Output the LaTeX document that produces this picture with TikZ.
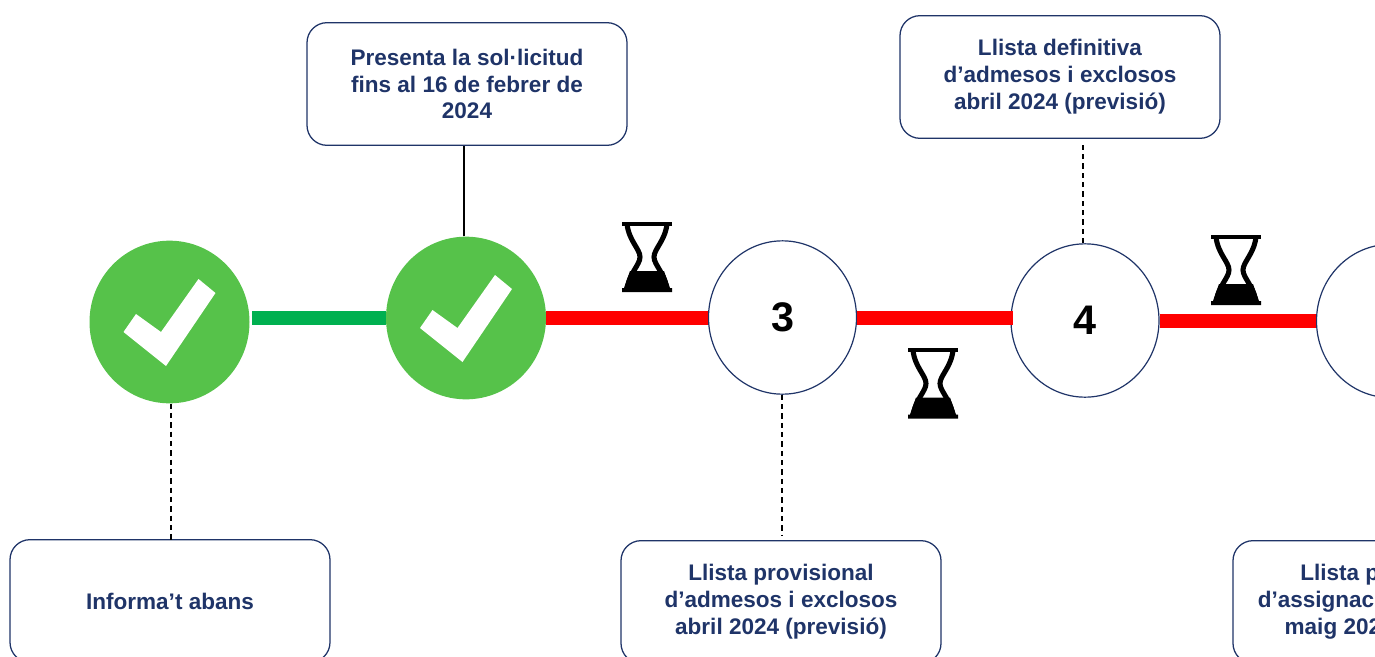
\documentclass[tikz,border=0pt]{standalone}
\usepackage{xcolor}
\usepackage{fontspec}
\setmainfont{Liberation Sans}
\usepackage{tikz}
\usetikzlibrary{shapes.geometric}

\definecolor{navy}{HTML}{1F3468}
\definecolor{okgreen}{HTML}{56C24A}
\definecolor{linegreen}{HTML}{00B050}

\tikzset{
  notebox/.style={draw=navy,line width=0.95pt,rounded corners=15pt,fill=white,minimum width=240pt,minimum height=92pt,align=center,text=navy,font=\fontsize{16.9}{20.2}\selectfont\bfseries},
  donestep/.style={ellipse,fill=okgreen,minimum width=120pt,minimum height=122pt,inner sep=0pt},
  openstep/.style={ellipse,draw=navy,line width=0.9pt,fill=white,minimum width=111pt,minimum height=115pt,inner sep=0pt,font=\fontsize{31}{31}\selectfont\bfseries},
  trackline/.style={line width=10.5pt},
  dashline/.style={line width=0.95pt,dash pattern=on 4pt off 3pt},
  tickmark/.pic={
    \fill[white] (-46,10) -- (-33.5,-8) -- (-8.5,10) -- (29,-43) -- (46,-29) -- (-3.5,44) -- cycle;
  },
  sandglass/.pic={
    \draw[line width=3.8pt] (-20,-33) .. controls (-18,-16) and (-7,-8) .. (-7,0) .. controls (-7,8) and (-18,16) .. (-20,33);
    \draw[line width=3.8pt] (20,-33) .. controls (18,-16) and (7,-8) .. (7,0) .. controls (7,8) and (18,16) .. (20,33);
    \draw[line width=3pt] (-25,-33.5) -- (25,-33.5);
    \fill (-25,35) -- (-25,31) -- (-23,31) -- (-17,14) -- (17,14) -- (23,31) -- (25,31) -- (25,35) -- cycle;
  }
}

\begin{document}
\begin{tikzpicture}[x=0.75pt,y=-0.75pt]
          \useasboundingbox (0,0) rectangle (1375,657);
          \clip (0,0) rectangle (1375,657);

          \node[donestep] (step1) at (169.5,322) {};
          \node[donestep] (step2) at (466,318) {};
          \node[openstep] (step3) at (782.5,317.5) {3};
          \node[openstep] (step4) at (1085,320.5) {4};
          \node[openstep] (step5) at (1390.5,321) {};

          \node[notebox] (abans) at (170,601) {Informa't abans};
          \node[notebox] (presenta) at (467,84) {Presenta la sol·licitud\\fins al 16 de febrer de\\2024};
          \node[notebox] (provisional) at (781,602) {Llista provisional\\d’admesos i exclosos\\abril 2024 (previsió)};
          \node[notebox] (definitiva) at (1060,77) {Llista definitiva\\d’admesos i exclosos\\abril 2024 (previsió)};
          \node[notebox] (assignacio) at (1393,602) {Llista p\phantom{rovisional}\\d’assignaci\phantom{ó de les place}\\maig 202\phantom{4 (previsió)}};

          \coordinate (abansend) at (171,540);
          \coordinate (presend) at (464,146);
          \coordinate (provend) at (782,536);
          \coordinate (defend) at (1083,145);

          \draw[linegreen,trackline,shorten <=2pt] (step1.east |- step2) -- (step2.west);
          \draw[red,trackline] (step2.east) -- (step2.east -| step3.west);
          \draw[red,trackline,shorten >=-2pt] (step3.east) -- (step3.east -| step4.west);
          \draw[red,trackline] (step4.east) -- (step4.east -| step5.west);

          \draw[dashline] (step1.south -| abansend) -- (abansend);
          \draw[line width=0.95pt] (step2.north -| presend) -- (presend);
          \draw[dashline] (step3.south -| provend) -- (provend);
          \draw[dashline] (step4.north -| defend) -- (defend);

          \pic at (step1) {tickmark};
          \pic at (step2) {tickmark};
          \pic at (647,257) {sandglass};
          \pic at (933,383.5) {sandglass};
          \pic at (1236,270) {sandglass};
        \end{tikzpicture}
\end{document}
